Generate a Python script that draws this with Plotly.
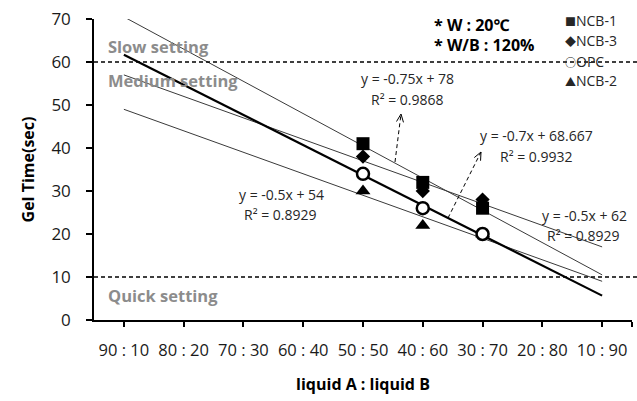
import numpy as np
import plotly.graph_objects as go

# ---- data ----
cat_x = [10, 20, 30, 40, 50, 60, 70, 80, 90]
cat_labels = ["90 : 10", "80 : 20", "70 : 30", "60 : 40", "50 : 50",
              "40 : 60", "30 : 70", "20 : 80", "10 : 90"]
sample_x = [50, 60, 70]
ncb1 = [41, 32, 26]
ncb3 = [38, 30, 28]
opc = [34, 26, 20]
ncb2 = [30, 22, 20]
trend_span = [10, 90]

W, H = 637, 401
ML, MR, MT, MB = 94, 5, 19, 81
XR = [5, 95]
YR = [0, 70]

def px2x(px):
    return XR[0] + (px - ML) / (W - ML - MR) * (XR[1] - XR[0])

def px2y(py):
    return YR[0] + ((H - MB) - py) / (H - MT - MB) * (YR[1] - YR[0])

FONT = "Open Sans, Noto Sans, Noto Sans CJK KR, sans-serif"

fig = go.Figure()

series = [
    ("NCB-1", ncb1, "square", 13, "#3a3a3a", 1),
    ("NCB-3", ncb3, "diamond", 11, "#3a3a3a", 1),
    ("NCB-2", ncb2, "triangle-up", 13, "#3a3a3a", 1),
    ("OPC", opc, "circle", 12, "black", 2.2),
]

# trend lines
for name, ys, sym, size, lc, lw in series:
    k, b = np.polyfit(sample_x, ys, 1)
    tx = np.array(trend_span, dtype=float)
    fig.add_trace(go.Scatter(x=tx, y=k * tx + b, mode="lines",
                             line=dict(color=lc, width=lw),
                             showlegend=False, hoverinfo="skip"))

# markers
for name, ys, sym, size, lc, lw in series:
    if sym == "circle":
        mk = dict(symbol="circle", size=size, color="white",
                  line=dict(color="black", width=2.5))
    else:
        mk = dict(symbol=sym, size=size, color="black",
                  line=dict(color="black", width=0))
    fig.add_trace(go.Scatter(x=sample_x, y=ys, mode="markers", name=name,
                             marker=mk, showlegend=False))

shapes = []
# setting boundaries
for yv in (60, 10):
    shapes.append(dict(type="line", xref="paper", yref="y", x0=0,
                       x1=(W - ML) / (W - ML - MR), y0=yv, y1=yv,
                       line=dict(color="black", width=1.5, dash="4px,3px")))

# dashed arrows
def arrow(p0, p1):
    (sx, sy), (ex, ey) = p0, p1
    shapes.append(dict(type="line", xref="x", yref="y",
                       x0=px2x(sx), y0=px2y(sy), x1=px2x(ex), y1=px2y(ey),
                       line=dict(color="black", width=1, dash="4px,3px")))
    d = np.array([ex - sx, ey - sy], dtype=float)
    u = d / np.linalg.norm(d)
    n = np.array([-u[1], u[0]])
    L, Wd = 8, 3.5
    a = np.array([ex, ey]) - L * u + Wd * n
    c = np.array([ex, ey]) - L * u - Wd * n
    path = "M {},{} L {},{} L {},{}".format(
        px2x(a[0]), px2y(a[1]), px2x(ex), px2y(ey), px2x(c[0]), px2y(c[1]))
    shapes.append(dict(type="path", xref="x", yref="y", path=path,
                       line=dict(color="black", width=1)))

arrow((395, 162), (401, 114))
arrow((448, 218), (481, 152))

ann = []
def txt(s, px, py, size=14, color="#262626", bold=False, xanchor="center"):
    ann.append(dict(text=("<b>%s</b>" % s) if bold else s,
                    x=px2x(px), y=px2y(py), xref="x", yref="y",
                    xanchor=xanchor, yanchor="middle", showarrow=False,
                    font=dict(family=FONT, size=size, color=color)))

# setting zones
txt("Slow setting", 106, 46, 16.5, "#8c8c8c", True, "left")
txt("Medium setting", 106, 80, 16.5, "#8c8c8c", True, "left")
txt("Quick setting", 106, 295, 16.5, "#8c8c8c", True, "left")

# conditions
txt("* W : 20℃", 432, 25, 16, "black", True, "left")
txt("* W/B : 120%", 432, 45, 16, "black", True, "left")

# equations
EQ = 14
txt("y = -0.75x + 78", 407, 78, EQ)
txt("R² = 0.9868", 407, 99, EQ)
txt("y = -0.7x + 68.667", 536, 135, EQ)
txt("R² = 0.9932", 536, 156, EQ)
txt("y = -0.5x + 54", 281, 194, EQ)
txt("R² = 0.8929", 280, 214, EQ)
txt("y = -0.5x + 62", 584, 215, EQ)
txt("R² = 0.8929", 583, 235, EQ)

# legend
leg = [("■", "NCB-1", 20), ("◆", "NCB-3", 40), ("○", "OPC", 61), ("▲", "NCB-2", 80)]
for sym, name, py in leg:
    ann.append(dict(text="<span style='font-size:11px'>%s</span>%s" % (sym, name),
                    x=px2x(563), y=px2y(py), xref="x", yref="y",
                    xanchor="left", yanchor="middle", showarrow=False,
                    font=dict(family=FONT, size=14, color="#262626")))

fig.update_layout(
    width=W, height=H,
    margin=dict(l=ML, r=MR, t=MT, b=MB),
    plot_bgcolor="white", paper_bgcolor="white",
    font=dict(family=FONT, color="#262626"),
    shapes=shapes, annotations=ann,
    xaxis=dict(range=XR, tickvals=cat_x + [95], ticktext=cat_labels + [""],
               showgrid=False, zeroline=False, showline=True,
               linecolor="black", linewidth=1.5,
               ticks="outside", ticklen=5, tickcolor="black", tickwidth=1.5,
               tickfont=dict(size=16.5, color="#1a1a1a"),
               ticklabelstandoff=9,
               title=dict(text="<b>liquid A : liquid B</b>",
                          font=dict(size=16, color="black"), standoff=19)),
    yaxis=dict(range=YR, tickvals=[0, 10, 20, 30, 40, 50, 60, 70],
               showgrid=False, zeroline=False, showline=True,
               linecolor="black", linewidth=1.5,
               ticks="outside", ticklen=6, tickcolor="black", tickwidth=1.5,
               tickfont=dict(size=17, color="#1a1a1a"),
               ticklabelstandoff=12,
               title=dict(text="<b>Gel Time(sec)</b>",
                          font=dict(size=16, color="black"), standoff=13)),
)

fig.write_html("out.html")
